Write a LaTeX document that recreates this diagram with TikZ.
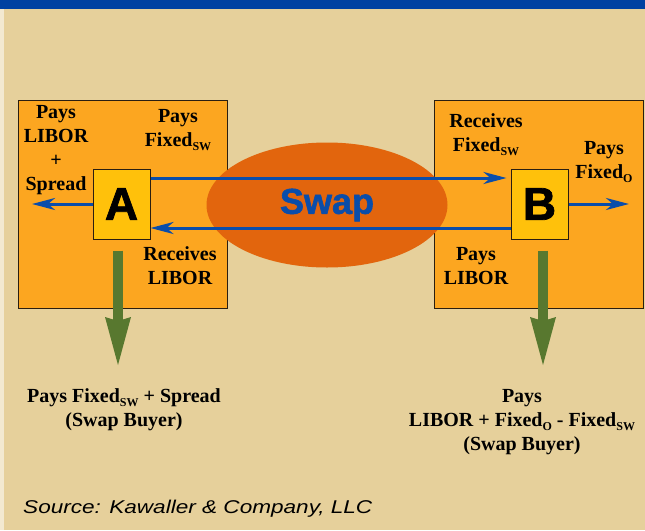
\documentclass[tikz,border=0pt]{standalone}
\usepackage{fontspec}
\setmainfont{Liberation Serif}
\setsansfont{Liberation Sans}
\newfontfamily\srcfont[FakeStretch=1.22]{Liberation Sans}
\newfontfamily\blackfont[BoldFeatures={FakeBold=1.6}]{Liberation Sans}
\usetikzlibrary{arrows.meta,shapes.geometric}
\definecolor{topblue}{HTML}{0041A1}
\definecolor{bgbeige}{HTML}{E6D09B}
\definecolor{edgecream}{HTML}{F3E9D0}
\definecolor{boxorange}{HTML}{FCA620}
\definecolor{boxline}{HTML}{2A1E10}
\definecolor{partygold}{HTML}{FFC10B}
\definecolor{swaporange}{HTML}{E2650D}
\definecolor{flowblue}{HTML}{0A4DAA}
\definecolor{downgreen}{HTML}{58782F}
\newcommand{\lowidx}[1]{\raisebox{-4pt}{\fontsize{12}{12}\selectfont #1}}

\begin{document}
\begin{tikzpicture}[x=1pt,y=-1pt,
  outer/.style={draw=boxline,line width=1pt,fill=boxorange},
  party/.style={draw=boxline,line width=1pt,fill=partygold,minimum width=57pt,minimum height=70pt,inner sep=0pt,font=\blackfont\bfseries\fontsize{46}{46}\selectfont},
  lbl/.style={align=center,inner sep=0pt,font=\bfseries\fontsize{20}{24}\selectfont},
  flow/.style={draw=flowblue,line width=3pt,-{Stealth[length=23pt,width=12pt,inset=7pt]}},
  down/.style={draw=downgreen,line width=10pt,-{Stealth[length=48pt,width=26pt,inset=4pt,line width=0pt]}}]
\pgfmathsetmacro{\boxtop}{100}
\pgfmathsetmacro{\boxbot}{308}
\useasboundingbox (0,0) rectangle (645,530);
\fill[bgbeige] (0,0) rectangle (645,530);
\fill[edgecream] (0,9) rectangle (4,530);
\fill[topblue] (0,0) rectangle (645,9);
\draw[outer] (18,\boxtop) rectangle (227,\boxbot);
\draw[outer] (434,\boxtop) rectangle (643,\boxbot);
\node[ellipse,fill=swaporange,minimum width=241pt,minimum height=125pt,inner sep=0pt,text=flowblue,font=\blackfont\bfseries\fontsize{36}{36}\selectfont] (swap) at (327,205) {Swap};
\node[party] (A) at (121.5,204) {A};
\node[party] (B) at (539.5,204) {B};
\coordinate (outL) at (32,204);
\coordinate (outR) at (629,204);
\coordinate (gA) at (118,365);
\coordinate (gB) at (543,365);
\draw[flow,shorten >=4pt] ([yshift=26pt]A.east) -- ([yshift=26pt]B.west);
\draw[flow] ([yshift=-24pt]B.west) -- ([yshift=-24pt]A.east);
\draw[flow] (A.west) -- (outL);
\draw[flow] (B.east) -- (outR);
\draw[down,shorten <=11pt] ([xshift=-3.5pt]A.south) -- (gA);
\draw[down,shorten <=11pt] ([xshift=3.5pt]B.south) -- (gB);
\node[lbl] (payA) at (56,150) {Pays\\LIBOR\\+\\Spread};
\node[lbl] (fixA) at (178,130) {Pays\\Fixed\lowidx{SW}};
\node[lbl] (recA) at (180,266) {Receives\\LIBOR};
\node[lbl] (recB) at (486,135) {Receives\\Fixed\lowidx{SW}};
\node[lbl] (payB) at (604,162) {Pays\\Fixed\lowidx{O}};
\node[lbl] (libB) at (476,266) {Pays\\LIBOR};
\node[lbl] (netA) at (124,410) {Pays Fixed\lowidx{SW} + Spread\\(Swap Buyer)};
\node[lbl] (netB) at (522,422) {Pays\\LIBOR + Fixed\lowidx{O} - Fixed\lowidx{SW}\\(Swap Buyer)};
\node[anchor=base west,inner sep=0pt,font=\srcfont\itshape\fontsize{18.5}{20}\selectfont] (src) at (23,513) {Source: Kawaller \& Company, LLC};
\end{tikzpicture}
\end{document}
